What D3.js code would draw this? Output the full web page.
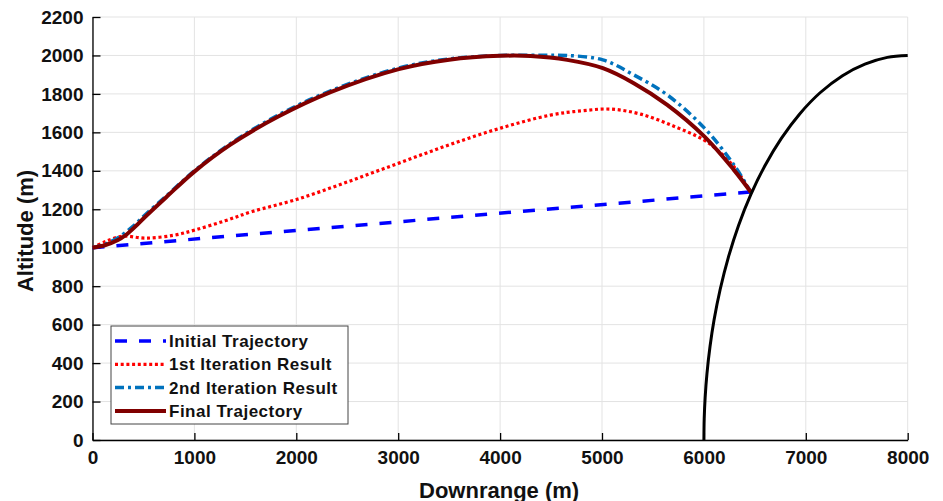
<!DOCTYPE html>
<html>
<head>
<meta charset="utf-8">
<script src="https://cdn.jsdelivr.net/npm/d3@7"></script>
<style>
  body { margin: 0; background: #fff; }
  text { font-family: "Liberation Sans", Arial, sans-serif; font-weight: bold; }
</style>
</head>
<body>
<div id="chart"></div>
<script>
// downrange (m) / altitude (m)
var initX = [0, 6460],
    initY = [1000, 1290];

var iter1X = [0, 128, 291, 520, 800, 1011, 1300, 1567, 2009, 2500, 3006, 3500, 4004, 4495, 4800, 5083, 5378, 5705, 5999, 6130, 6294, 6460],
    iter1Y = [1000, 1032, 1060, 1050, 1065, 1093, 1140, 1188, 1252, 1342, 1440, 1535, 1622, 1690, 1712, 1721, 1695, 1632, 1561, 1509, 1422, 1290];

var iter2X = [0, 130, 258, 400, 515, 730, 1000, 1350, 1823, 2336, 3006, 3500, 4004, 4400, 4658, 5008, 5312, 5640, 6006, 6294, 6460],
    iter2Y = [1000, 1020, 1055, 1112, 1170, 1272, 1400, 1540, 1690, 1816, 1935, 1982, 2000, 2001, 2000, 1977, 1899, 1795, 1622, 1431, 1290];

var finalX = [0, 128, 250, 324, 420, 515, 730, 1000, 1350, 1823, 2336, 3006, 3500, 4004, 4300, 4658, 5008, 5312, 5640, 6006, 6294, 6460],
    finalY = [1000, 1014, 1040, 1065, 1110, 1160, 1266, 1396, 1535, 1682, 1809, 1929, 1978, 1998, 1997, 1977, 1934, 1856, 1743, 1578, 1405, 1290];

var arcX = [6000, 6003, 6012, 6030, 6060, 6100, 6160, 6240, 6340, 6460, 6600, 6760, 6940, 7140, 7360, 7580, 7800, 8000],
    arcY = [0, 110, 219, 345, 486, 625, 784, 950, 1116, 1276, 1428, 1569, 1696, 1806, 1895, 1955, 1990, 2000];

var xTicks = [0, 1000, 2000, 3000, 4000, 5000, 6000, 7000, 8000],
    yTicks = [0, 200, 400, 600, 800, 1000, 1200, 1400, 1600, 1800, 2000, 2200];

var width = 943, height = 501;
var margin = {top: 17, right: 35.3, bottom: 61, left: 92.5},
    w = width - margin.left - margin.right,
    h = height - margin.top - margin.bottom;

var svg = d3.select("#chart").append("svg")
    .attr("width", width)
    .attr("height", height);

var g = svg.append("g").attr("transform", "translate(" + margin.left + "," + margin.top + ")");

var x = d3.scaleLinear().range([0, w]).domain([0, 8000]),
    y = d3.scaleLinear().range([h, 0]).domain([0, 2200]);

// grid
g.selectAll(".vgrid").data(xTicks).enter().append("line")
    .attr("x1", function(d) { return x(d); })
    .attr("x2", function(d) { return x(d); })
    .attr("y1", 0).attr("y2", h)
    .attr("stroke", "#e3e3e3").attr("stroke-width", 1);
g.selectAll(".hgrid").data(yTicks).enter().append("line")
    .attr("x1", 0).attr("x2", w)
    .attr("y1", function(d) { return y(d); })
    .attr("y2", function(d) { return y(d); })
    .attr("stroke", "#e3e3e3").attr("stroke-width", 1);

// axes
var xAxis = d3.axisBottom(x).tickValues(xTicks).tickFormat(d3.format("d"))
        .tickSizeInner(-7).tickSizeOuter(0).tickPadding(11),
    yAxis = d3.axisLeft(y).tickValues(yTicks).tickFormat(d3.format("d"))
        .tickSizeInner(-8).tickSizeOuter(0).tickPadding(9);

var gx = g.append("g").attr("transform", "translate(0," + h + ")").call(xAxis);
var gy = g.append("g").call(yAxis);
[gx, gy].forEach(function(a) {
    a.selectAll("path, line").attr("stroke", "#000").attr("stroke-width", 1.3);
    a.selectAll("text").attr("font-size", 19).attr("fill", "#111")
        .style("font-family", "'Liberation Sans', Arial, sans-serif").style("font-weight", "bold");
});

svg.append("text")
    .attr("x", margin.left + w / 2 - 1).attr("y", 497.5)
    .attr("text-anchor", "middle").attr("font-size", 22).attr("fill", "#111")
    .text("Downrange (m)");
svg.append("text")
    .attr("transform", "translate(33,231) rotate(-90)")
    .attr("text-anchor", "middle").attr("font-size", 22).attr("fill", "#111")
    .text("Altitude (m)");

// series
var series = [
    {name: "Initial Trajectory", xs: initX, ys: initY, color: "#0000ff", width: 3.5, dash: "12,12"},
    {name: "1st Iteration Result", xs: iter1X, ys: iter1Y, color: "#ff0000", width: 3.2, dash: "3,2.7"},
    {name: "2nd Iteration Result", xs: iter2X, ys: iter2Y, color: "#0072bd", width: 3.5, dash: "9,4,3,4"},
    {name: "Final Trajectory", xs: finalX, ys: finalY, color: "#800000", width: 4, dash: null}
];

var line = d3.line()
    .x(function(d) { return x(d[0]); })
    .y(function(d) { return y(d[1]); })
    .curve(d3.curveCatmullRom.alpha(0.5));

series.forEach(function(s) {
    g.append("path")
        .datum(d3.zip(s.xs, s.ys))
        .attr("d", line)
        .attr("fill", "none")
        .attr("stroke", s.color)
        .attr("stroke-width", s.width)
        .attr("stroke-dasharray", s.dash);
});

g.append("path")
    .datum(d3.zip(arcX, arcY))
    .attr("d", line)
    .attr("fill", "none")
    .attr("stroke", "#000")
    .attr("stroke-width", 3);

// legend
var leg = svg.append("g").attr("transform", "translate(111,326)");
leg.append("rect")
    .attr("width", 237).attr("height", 98)
    .attr("fill", "#fff").attr("stroke", "#444").attr("stroke-width", 1);
series.forEach(function(s, i) {
    var ly = 15 + i * 23.3;
    leg.append("line")
        .attr("x1", 4).attr("x2", 55)
        .attr("y1", ly).attr("y2", ly)
        .attr("stroke", s.color)
        .attr("stroke-width", s.width)
        .attr("stroke-dasharray", s.dash);
    leg.append("text")
        .attr("x", 58).attr("y", ly + 6)
        .attr("font-size", 17).attr("letter-spacing", 0.5).attr("fill", "#111")
        .text(s.name);
});
</script>
</body>
</html>
